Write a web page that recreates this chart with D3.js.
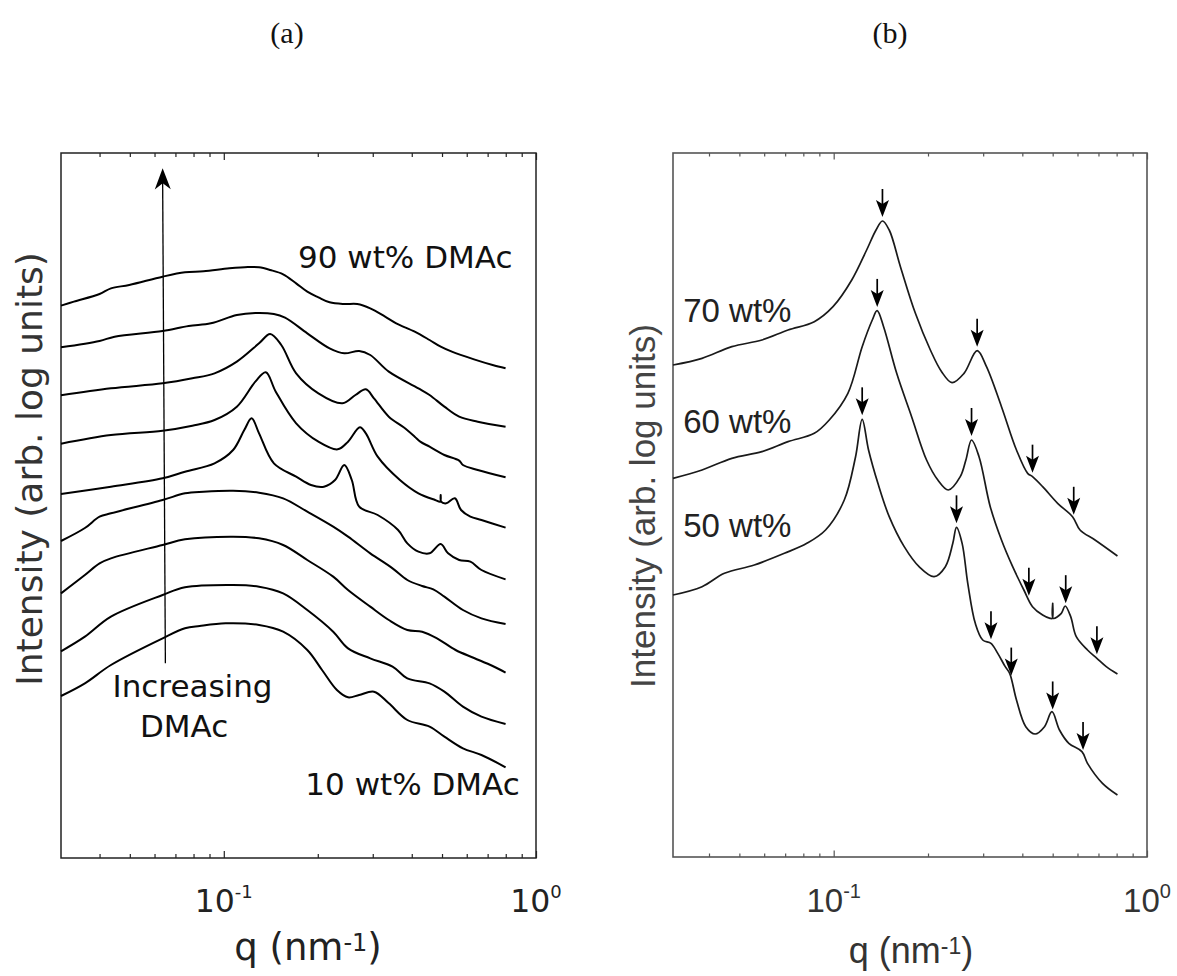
<!DOCTYPE html>
<html>
<head>
<meta charset="utf-8">
<script src="https://cdn.jsdelivr.net/npm/d3@7"></script>
<style>
  body { margin: 0; background: #fff; }
  svg { display: block; }
</style>
</head>
<body>
<svg id="fig" width="1177" height="976"></svg>
<script>
// ---- data: q in nm^-1, level = log intensity in arbitrary units (curves stacked) ----
const qMajor = [0.1, 1];
const qMinor = [0.04, 0.05, 0.06, 0.07, 0.08, 0.09, 0.2, 0.3, 0.4, 0.5, 0.6, 0.7, 0.8, 0.9];
const tickLabelBase = ["10", "10"];
const tickLabelExp = ["-1", "0"];
const panelTitles = ["(a)", "(b)"];

// panel (a): 10 ... 90 wt% DMAc
const dmac90 = [[0.0301,16.57],[0.0331,16.69],[0.0400,16.92],[0.0435,17.09],[0.0498,17.19],[0.0637,17.44],[0.0751,17.57],[0.0861,17.60],[0.1042,17.69],[0.1195,17.73],[0.1297,17.72],[0.1408,17.64],[0.1549,17.51],[0.1705,17.24],[0.1851,16.99],[0.2009,16.82],[0.2182,16.67],[0.2432,16.62],[0.2677,16.62],[0.2945,16.49],[0.3286,16.24],[0.3567,16.04],[0.4088,15.79],[0.4561,15.54],[0.4951,15.34],[0.5376,15.19],[0.6332,14.96],[0.7262,14.79],[0.7990,14.69]];
const dmac80 = [[0.0301,15.32],[0.0400,15.51],[0.0447,15.64],[0.0637,15.81],[0.0772,15.96],[0.0909,16.04],[0.1101,16.29],[0.1262,16.35],[0.1447,16.32],[0.1571,16.21],[0.1851,15.74],[0.2182,15.29],[0.2432,15.14],[0.2714,15.21],[0.2945,15.09],[0.3377,14.59],[0.4201,14.09],[0.4561,13.89],[0.5088,13.54],[0.5674,13.24],[0.6508,13.09],[0.7990,12.94]];
const dmac70 = [[0.0301,13.88],[0.0435,14.09],[0.0637,14.24],[0.0793,14.39],[0.0934,14.54],[0.1101,14.89],[0.1297,15.44],[0.1408,15.72],[0.1528,15.39],[0.1705,14.54],[0.2009,13.94],[0.2399,13.64],[0.2641,13.89],[0.2851,14.06],[0.3027,13.79],[0.3377,13.24],[0.3767,12.92],[0.4088,12.64],[0.4259,12.49],[0.4561,12.34],[0.5088,12.09],[0.5674,11.92],[0.5834,11.79],[0.6508,11.64],[0.7990,11.42]];
const dmac60 = [[0.0301,12.43],[0.0435,12.69],[0.0637,12.82],[0.0793,12.97],[0.0934,13.14],[0.1101,13.54],[0.1262,14.29],[0.1363,14.57],[0.1467,13.99],[0.1705,13.04],[0.2009,12.49],[0.2316,12.26],[0.2500,12.49],[0.2729,12.92],[0.2851,12.74],[0.3111,12.04],[0.3665,11.34],[0.4201,10.94],[0.4752,10.74],[0.4935,10.69],[0.4951,10.89],[0.4967,10.69],[0.5158,10.64],[0.5495,10.79],[0.5754,10.44],[0.6163,10.24],[0.6688,10.14],[0.7990,9.91]];
const dmac50 = [[0.0301,10.92],[0.0435,11.14],[0.0637,11.39],[0.0751,11.59],[0.0934,11.84],[0.1071,12.24],[0.1163,12.84],[0.1228,13.19],[0.1297,12.74],[0.1447,11.84],[0.1705,11.44],[0.1902,11.19],[0.2093,11.14],[0.2272,11.34],[0.2432,11.79],[0.2570,11.34],[0.2714,10.54],[0.3111,10.29],[0.3616,9.84],[0.3872,9.44],[0.4201,9.19],[0.4561,9.14],[0.4951,9.42],[0.5229,9.14],[0.5674,8.94],[0.6163,8.89],[0.6688,8.64],[0.7990,8.36]];
const dmac40 = [[0.0301,9.51],[0.0359,9.90],[0.0400,10.24],[0.0435,10.34],[0.0637,10.74],[0.0751,10.94],[0.0861,10.99],[0.1071,11.02],[0.1297,10.96],[0.1549,10.79],[0.1851,10.39],[0.2241,9.94],[0.2500,9.64],[0.2945,9.14],[0.3471,8.69],[0.3872,8.34],[0.4318,8.16],[0.4688,8.06],[0.5088,7.84],[0.5834,7.44],[0.6688,7.19],[0.7990,7.02]];
const dmac30 = [[0.0301,7.94],[0.0359,8.49],[0.0400,8.84],[0.0435,8.99],[0.0637,9.39],[0.0751,9.56],[0.1071,9.64],[0.1297,9.59],[0.1549,9.39],[0.1851,8.94],[0.2241,8.44],[0.2500,8.04],[0.2945,7.54],[0.3377,7.14],[0.3872,6.84],[0.4318,6.79],[0.4818,6.59],[0.5525,6.24],[0.6332,6.00],[0.7262,5.76],[0.7990,5.56]];
const dmac20 = [[0.0301,6.20],[0.0359,6.64],[0.0435,7.24],[0.0637,7.89],[0.0751,8.12],[0.1071,8.19],[0.1297,8.14],[0.1549,7.94],[0.1851,7.44],[0.2241,6.79],[0.2500,6.29],[0.2945,5.99],[0.3471,5.74],[0.3872,5.39],[0.4561,5.24],[0.5088,4.99],[0.5834,4.54],[0.6688,4.24],[0.7990,4.02]];
const dmac10 = [[0.0301,4.86],[0.0359,5.24],[0.0435,5.79],[0.0637,6.59],[0.0751,6.89],[0.0837,6.96],[0.1014,7.04],[0.1297,6.99],[0.1549,6.79],[0.1851,6.24],[0.2064,5.64],[0.2303,5.04],[0.2500,4.82],[0.2714,4.89],[0.3027,4.99],[0.3377,4.64],[0.3872,4.14],[0.4561,3.94],[0.5088,3.64],[0.5834,3.29],[0.6688,3.09],[0.7990,2.72]];

// trend arrow in panel (a): bottom -> top
const trendQ = [0.0650, 0.0637];
const trendLevel = [5.84, 20.69];

// panel (b): 50, 60, 70 wt%
const wt70 = [[0.0307,14.76],[0.0380,14.96],[0.0473,15.31],[0.0590,15.51],[0.0715,15.81],[0.0867,16.06],[0.0995,16.51],[0.1142,17.31],[0.1274,18.21],[0.1365,18.81],[0.1431,19.08],[0.1504,18.81],[0.1633,17.71],[0.1823,16.31],[0.2035,15.21],[0.2210,14.56],[0.2386,14.23],[0.2606,14.51],[0.2870,15.19],[0.3074,14.71],[0.3432,13.51],[0.3832,12.21],[0.4160,11.51],[0.4311,11.41],[0.4644,11.11],[0.5185,10.61],[0.5785,10.21],[0.6113,9.81],[0.6825,9.51],[0.8048,9.03]];
const wt60 = [[0.0307,11.36],[0.0380,11.61],[0.0473,11.96],[0.0590,12.16],[0.0715,12.46],[0.0867,12.71],[0.0968,13.11],[0.1110,13.91],[0.1233,15.31],[0.1328,16.11],[0.1376,16.39],[0.1443,15.91],[0.1589,14.51],[0.1773,13.21],[0.1979,11.91],[0.2150,11.31],[0.2322,11.01],[0.2535,11.41],[0.2642,11.91],[0.2754,12.51],[0.2910,12.01],[0.3160,10.51],[0.3432,9.51],[0.3726,8.71],[0.4046,8.01],[0.4311,7.51],[0.4644,7.26],[0.4906,7.16],[0.4985,7.16],[0.5001,7.61],[0.5017,7.16],[0.5328,7.31],[0.5478,7.53],[0.5708,7.21],[0.5946,6.61],[0.6458,6.21],[0.6920,5.96],[0.7413,5.71],[0.8048,5.49]];
const wt50 = [[0.0307,7.86],[0.0380,8.11],[0.0448,8.51],[0.0558,8.76],[0.0696,9.11],[0.0821,9.41],[0.0942,9.81],[0.1081,10.71],[0.1174,12.00],[0.1233,13.13],[0.1292,12.21],[0.1384,11.21],[0.1504,10.21],[0.1679,9.31],[0.1873,8.71],[0.2091,8.41],[0.2272,8.71],[0.2400,9.41],[0.2466,9.89],[0.2570,9.41],[0.2679,8.21],[0.2831,7.01],[0.2990,6.51],[0.3177,6.41],[0.3339,6.11],[0.3528,5.71],[0.3645,5.51],[0.3832,4.71],[0.4103,3.91],[0.4395,3.69],[0.4708,3.91],[0.4973,4.36],[0.5256,3.81],[0.5630,3.41],[0.6198,3.16],[0.6458,2.81],[0.7211,2.21],[0.8048,1.86]];

// Bragg reflections marked with arrows (q positions)
const peaks70 = [0.1431, 0.2870, 0.4311, 0.5836];
const peaks60 = [0.1377, 0.2754, 0.4197, 0.5503, 0.6920];
const peaks50 = [0.1233, 0.2466, 0.3177, 0.3688, 0.5000, 0.6250];

// ---- drawing ----
const svg = d3.select("#fig");

function levelAt(series, q) {
  const lq = Math.log10(q);
  for (let i = 0; i < series.length - 1; i++) {
    const a = series[i], b = series[i + 1];
    if (q >= a[0] && q <= b[0]) {
      const t = (lq - Math.log10(a[0])) / (Math.log10(b[0]) - Math.log10(a[0]));
      return a[1] + t * (b[1] - a[1]);
    }
  }
  return series[series.length - 1][1];
}

function drawFrame(g, x, y, st) {
  const [x0, x1] = x.range();
  const [y0, y1] = y.range();
  // minor + major ticks, bottom and top, pointing into the plot
  const bottom = g.append("g").attr("transform", `translate(0,${y0})`);
  bottom.call(d3.axisBottom(x).tickValues(qMinor).tickSizeInner(-st.minor).tickSizeOuter(0).tickFormat(""));
  bottom.append("g").call(d3.axisBottom(x).tickValues(qMajor).tickSizeInner(-st.major).tickSizeOuter(0).tickFormat(""));
  const top = g.append("g").attr("transform", `translate(0,${y1})`);
  top.call(d3.axisTop(x).tickValues(qMinor).tickSizeInner(-st.minor).tickSizeOuter(0).tickFormat(""));
  top.append("g").call(d3.axisTop(x).tickValues(qMajor).tickSizeInner(-st.major).tickSizeOuter(0).tickFormat(""));
  g.selectAll(".domain").remove();
  g.selectAll(".tick line").attr("stroke", st.color).attr("stroke-width", st.tickWidth);
  g.append("rect")
    .attr("x", x0).attr("y", y1).attr("width", x1 - x0).attr("height", y0 - y1)
    .attr("fill", "none").attr("stroke", st.color).attr("stroke-width", st.frameWidth);
}

function tickLabels(g, x, baseY, st) {
  qMajor.forEach((q, i) => {
    const t = g.append("text")
      .attr("x", x(q)).attr("y", baseY)
      .attr("text-anchor", "middle")
      .attr("font-family", st.font).attr("font-size", st.size).attr("fill", st.color);
    t.append("tspan").text(tickLabelBase[i]);
    t.append("tspan").attr("dy", -st.supShift).attr("font-size", st.supSize).text(tickLabelExp[i]);
  });
}

function qLabel(g, cx, baseY, st) {
  const t = g.append("text")
    .attr("x", cx).attr("y", baseY)
    .attr("text-anchor", "middle")
    .attr("font-family", st.font).attr("font-size", st.size).attr("fill", st.color);
  t.append("tspan").text("q (nm");
  t.append("tspan").attr("dy", -st.supShift).attr("font-size", st.supSize).text("-1");
  t.append("tspan").attr("dy", st.supShift).text(")");
}

function yLabel(g, x, cy, st) {
  g.append("text")
    .attr("transform", `translate(${x},${cy}) rotate(-90)`)
    .attr("text-anchor", "middle")
    .attr("font-family", st.font).attr("font-size", st.size).attr("fill", st.color)
    .text("Intensity (arb. log units)");
}

const smooth = d3.curveCatmullRom.alpha(0.5);

// ================= panel (a) =================
const xa = d3.scaleLog().domain([0.0301, 1]).range([61, 536]);
const ya = d3.scaleLinear().domain([0, 21.15]).range([858, 153]);
const gA = svg.append("g");
const fontA = "'DejaVu Sans', Verdana, sans-serif";

drawFrame(gA, xa, ya, { minor: 4, major: 7, color: "#222", tickWidth: 1.2, frameWidth: 1.5 });

const lineA = d3.line().x(d => xa(d[0])).y(d => ya(d[1])).curve(smooth);
const seriesA = [dmac10, dmac20, dmac30, dmac40, dmac50, dmac60, dmac70, dmac80, dmac90];
gA.append("g").selectAll("path").data(seriesA).join("path")
  .attr("d", lineA)
  .attr("fill", "none").attr("stroke", "#000").attr("stroke-width", 2)
  .attr("stroke-linejoin", "round");

// trend arrow
{
  const xb0 = xa(trendQ[0]), yb0 = ya(trendLevel[0]);
  const xt = xa(trendQ[1]), yt = ya(trendLevel[1]);
  const ang = Math.atan2(yt - yb0, xt - xb0) * 180 / Math.PI + 90;
  gA.append("line")
    .attr("x1", xb0).attr("y1", yb0).attr("x2", xt).attr("y2", yt + 12)
    .attr("stroke", "#000").attr("stroke-width", 1.3);
  gA.append("path")
    .attr("transform", `translate(${xt},${yt}) rotate(${ang})`)
    .attr("d", "M0,0 L8,21 L0,15 L-8,21 Z")
    .attr("fill", "#000");
}

const annA = gA.append("g").attr("font-family", fontA).attr("font-size", 31).attr("fill", "#111");
annA.append("text").attr("x", xa(0.1729)).attr("y", ya(17.69)).text("90 wt% DMAc");
annA.append("text").attr("x", xa(0.1825)).attr("y", ya(1.89)).text("10 wt% DMAc");
annA.append("text").attr("x", xa(0.0794)).attr("y", ya(4.83)).attr("text-anchor", "middle").text("Increasing");
annA.append("text").attr("x", xa(0.0746)).attr("y", ya(3.64)).attr("text-anchor", "middle").text("DMAc");

tickLabels(gA, xa, 912, { font: fontA, size: 31.5, supSize: 18, supShift: 14.5, color: "#222" });
qLabel(gA, 308, 960, { font: fontA, size: 37, supSize: 24, supShift: 9, color: "#222" });
yLabel(gA, 42, 469, { font: fontA, size: 36, color: "#333" });

// ================= panel (b) =================
const xb = d3.scaleLog().domain([0.0307, 1]).range([673, 1147]);
const yb = d3.scaleLinear().domain([0, 21.12]).range([857, 153]);
const gB = svg.append("g");
const fontB = "'Liberation Sans', Arial, Helvetica, sans-serif";

drawFrame(gB, xb, yb, { minor: 3.5, major: 6.5, color: "#555", tickWidth: 1.2, frameWidth: 1.6 });

const lineB = d3.line().x(d => xb(d[0])).y(d => yb(d[1])).curve(smooth);
const seriesB = [wt50, wt60, wt70];
gB.append("g").selectAll("path").data(seriesB).join("path")
  .attr("d", lineB)
  .attr("fill", "none").attr("stroke", "#1a1a1a").attr("stroke-width", 1.7)
  .attr("stroke-linejoin", "round");

// peak markers
const markerSets = [[wt70, peaks70], [wt60, peaks60], [wt50, peaks50]];
markerSets.forEach(([series, qs]) => {
  qs.forEach(q => {
    const px = xb(q), py = yb(levelAt(series, q)) - 4;
    const m = gB.append("g").attr("transform", `translate(${px},${py})`);
    m.append("line").attr("x1", 0).attr("y1", -28).attr("x2", 0).attr("y2", -10)
      .attr("stroke", "#000").attr("stroke-width", 1.7);
    m.append("path").attr("d", "M0,0 L-6.5,-17 L0,-13 L6.5,-17 Z").attr("fill", "#000");
  });
});

const annB = gB.append("g").attr("font-family", fontB).attr("font-size", 33).attr("fill", "#222");
annB.append("text").attr("x", xb(0.0331)).attr("y", yb(16.06)).text("70 wt%");
annB.append("text").attr("x", xb(0.0331)).attr("y", yb(12.71)).text("60 wt%");
annB.append("text").attr("x", xb(0.0331)).attr("y", yb(9.61)).text("50 wt%");

tickLabels(gB, xb, 912, { font: fontB, size: 33, supSize: 20, supShift: 14.5, color: "#333" });
qLabel(gB, 911, 963, { font: fontB, size: 36, supSize: 23, supShift: 9, color: "#333" });
yLabel(gB, 655, 506, { font: fontB, size: 35, color: "#444" });

// panel titles
const titleFont = "'Liberation Serif', 'Times New Roman', serif";
svg.append("g").selectAll("text").data(panelTitles).join("text")
  .attr("x", (d, i) => [287, 890][i]).attr("y", 43)
  .attr("text-anchor", "middle")
  .attr("font-family", titleFont).attr("font-size", 30).attr("fill", "#111")
  .text(d => d);
</script>
</body>
</html>
